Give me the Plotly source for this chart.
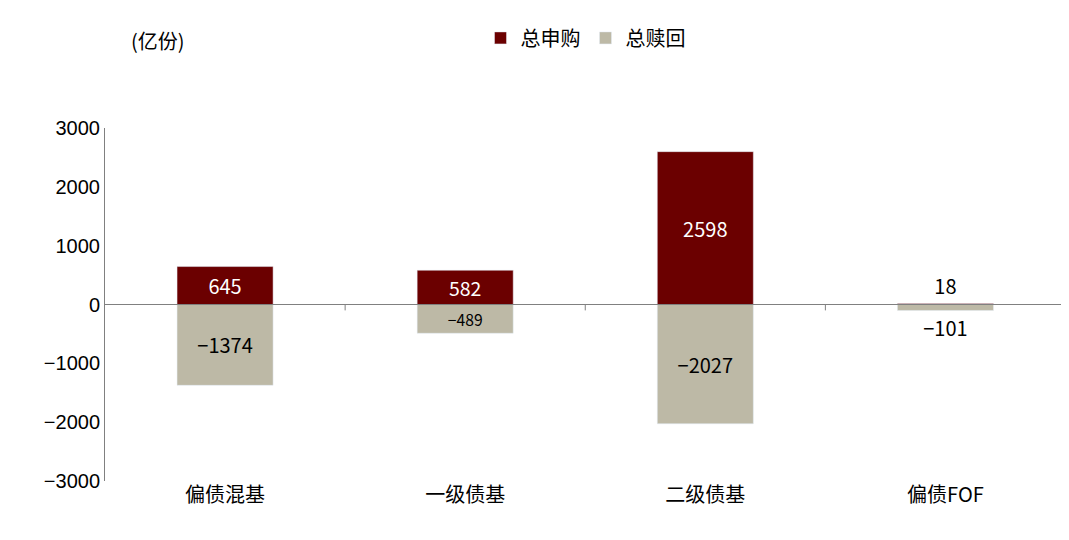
import plotly.graph_objects as go

categories = ["偏债混基", "一级债基", "二级债基", "偏债FOF"]
subscribe = [645, 582, 2598, 18]
redeem = [-1374, -489, -2027, -101]

red = "#6B0000"
grey = "#BDB9A6"

def pos(vals):
    return ["inside" if abs(v) > 300 else "outside" for v in vals]

fig = go.Figure()
fig.add_trace(go.Bar(x=categories, y=subscribe, name="总申购", marker_color=red,
                     text=[str(v) for v in subscribe], textposition=pos(subscribe),
                     insidetextanchor="middle",
                     insidetextfont=dict(color="white", size=20),
                     outsidetextfont=dict(color="black", size=20),
                     cliponaxis=False))
fig.add_trace(go.Bar(x=categories, y=redeem, name="总赎回", marker_color=grey,
                     text=[str(v).replace("-", "−") for v in redeem], textposition=pos(redeem),
                     insidetextanchor="middle",
                     insidetextfont=dict(color="black", size=20),
                     outsidetextfont=dict(color="black", size=20),
                     cliponaxis=False))

fig.update_layout(
    barmode="relative", bargap=0.6,
    width=1069, height=540, plot_bgcolor="white", paper_bgcolor="white",
    margin=dict(l=97, r=11, t=91, b=67),
    font=dict(family="Noto Sans CJK SC, Arial", size=20, color="black"),
    legend=dict(orientation="h", x=0.5, xanchor="center", y=1.2, yanchor="bottom",
                font=dict(size=20)),
    uniformtext=dict(mode=False),
)
fig.update_yaxes(range=[-3000, 3000], dtick=1000, showgrid=False, zeroline=False,
                 showline=True, linecolor="#808080", linewidth=1,
                 tickfont=dict(family="Liberation Sans, Arial", size=20), ticks="")
fig.update_xaxes(showline=False, ticks="", showgrid=False,
                 tickfont=dict(size=20))
# zero axis line with boundary ticks
fig.add_shape(type="line", xref="paper", yref="y", x0=0, x1=1, y0=0, y1=0,
              line=dict(color="#808080", width=1))
for b in [0.5, 1.5, 2.5, 3.5]:
    fig.add_shape(type="line", xref="x", yref="y", x0=b, x1=b, y0=0, y1=-100,
                  line=dict(color="#808080", width=1))
fig.add_annotation(text="(亿份)", xref="paper", yref="paper", x=0.025, y=1.2,
                   xanchor="left", yanchor="bottom", showarrow=False, font=dict(size=20))
fig.write_html("out.html")
